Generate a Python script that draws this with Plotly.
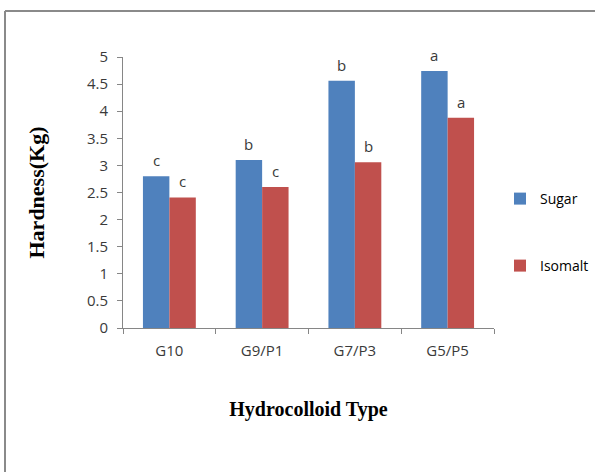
import plotly.graph_objects as go

categories = ["G10", "G9/P1", "G7/P3", "G5/P5"]
sugar = [2.80, 3.10, 4.56, 4.74]
isomalt = [2.41, 2.60, 3.06, 3.88]
sugar_letters = ["c", "b", "b", "a"]
isomalt_letters = ["c", "c", "b", "a"]
y_ticks = [0, 0.5, 1, 1.5, 2, 2.5, 3, 3.5, 4, 4.5, 5]
y_tick_labels = ["0", "0.5", "1", "1.5", "2", "2.5", "3", "3.5", "4", "4.5", "5"]

BLUE = "#4F81BD"
RED = "#C0504D"
SANS = "Open Sans, Liberation Sans, sans-serif"
TICKFONT = dict(family=SANS, size=15, color="#3a3a3a")
LETTERFONT = dict(family=SANS, size=15, color="#3a3a3a")
SERIF = "Liberation Serif, Times New Roman, serif"

fig = go.Figure()
fig.add_trace(go.Bar(
    name="Sugar", x=categories, y=sugar, marker=dict(color=BLUE, line=dict(width=0)),
    legend="legend", offsetgroup="s",
))
fig.add_trace(go.Bar(
    name="Isomalt", x=categories, y=isomalt, marker=dict(color=RED, line=dict(width=0)),
    legend="legend2", offsetgroup="i",
))

W, H = 595, 472
L, R, T, B = 123, 101, 57, 144
pw, ph = W - L - R, H - T - B

def px_to_paper_x(px):
    return (px - L) / pw

def px_to_paper_y(py):
    return (H - B - py) / ph

bargap = 0.43
bar_w = (1 - bargap) / 2
annotations = []
for i, cat in enumerate(categories):
    for vals, letters, sign in ((sugar, sugar_letters, -1), (isomalt, isomalt_letters, 1)):
        annotations.append(dict(
            x=i + sign * bar_w / 2, y=vals[i], xref="x", yref="y",
            text=letters[i], showarrow=False, yanchor="bottom", yshift=4,
            font=LETTERFONT,
        ))

fig.update_layout(
    width=W, height=H,
    margin=dict(l=L, r=R, t=T, b=B, pad=0, autoexpand=False),
    paper_bgcolor="white", plot_bgcolor="white",
    barmode="group", bargap=bargap, bargroupgap=0,
    xaxis=dict(
        showline=True, linecolor="#868686", linewidth=1,
        ticks="outside", ticklen=5, tickcolor="#868686",
        tickson="boundaries", tickfont=TICKFONT, showgrid=False, automargin=False,
        ticklabelstandoff=9,
        title=dict(text="<b>Hydrocolloid Type</b>",
                   font=dict(family=SERIF, size=20, color="#000000"), standoff=42),
    ),
    yaxis=dict(
        range=[0, 5], tickvals=y_ticks, ticktext=y_tick_labels,
        showline=True, linecolor="#868686", linewidth=1,
        ticks="outside", ticklen=5, tickcolor="#868686",
        tickfont=TICKFONT, showgrid=False, zeroline=False, automargin=False,
        ticklabelstandoff=6,
        title=dict(text="<b>Hardness(Kg)</b>",
                   font=dict(family=SERIF, size=22, color="#000000"), standoff=36),
    ),
    legend=dict(
        x=px_to_paper_x(500), y=px_to_paper_y(199), xanchor="left", yanchor="middle",
        font=dict(family=SANS, size=14, color="#000000"),
        bgcolor="rgba(0,0,0,0)", itemwidth=30,
    ),
    legend2=dict(
        x=px_to_paper_x(500), y=px_to_paper_y(266), xanchor="left", yanchor="middle",
        font=dict(family=SANS, size=14, color="#000000"),
        bgcolor="rgba(0,0,0,0)", itemwidth=30,
    ),
    showlegend=True,
    annotations=annotations,
)

# outer frame (top and left edges only, as visible in reference)
fig.add_shape(type="line", xref="paper", yref="paper",
              x0=px_to_paper_x(5), x1=px_to_paper_x(600),
              y0=px_to_paper_y(11), y1=px_to_paper_y(11),
              line=dict(color="#8a8a8a", width=2))
fig.add_shape(type="line", xref="paper", yref="paper",
              x0=px_to_paper_x(5), x1=px_to_paper_x(5),
              y0=px_to_paper_y(11), y1=px_to_paper_y(480),
              line=dict(color="#8a8a8a", width=2))

fig.write_html(
    "out.html",
    config={"displayModeBar": False},
    post_script="document.body.style.margin='0';document.body.style.padding='0';",
)
